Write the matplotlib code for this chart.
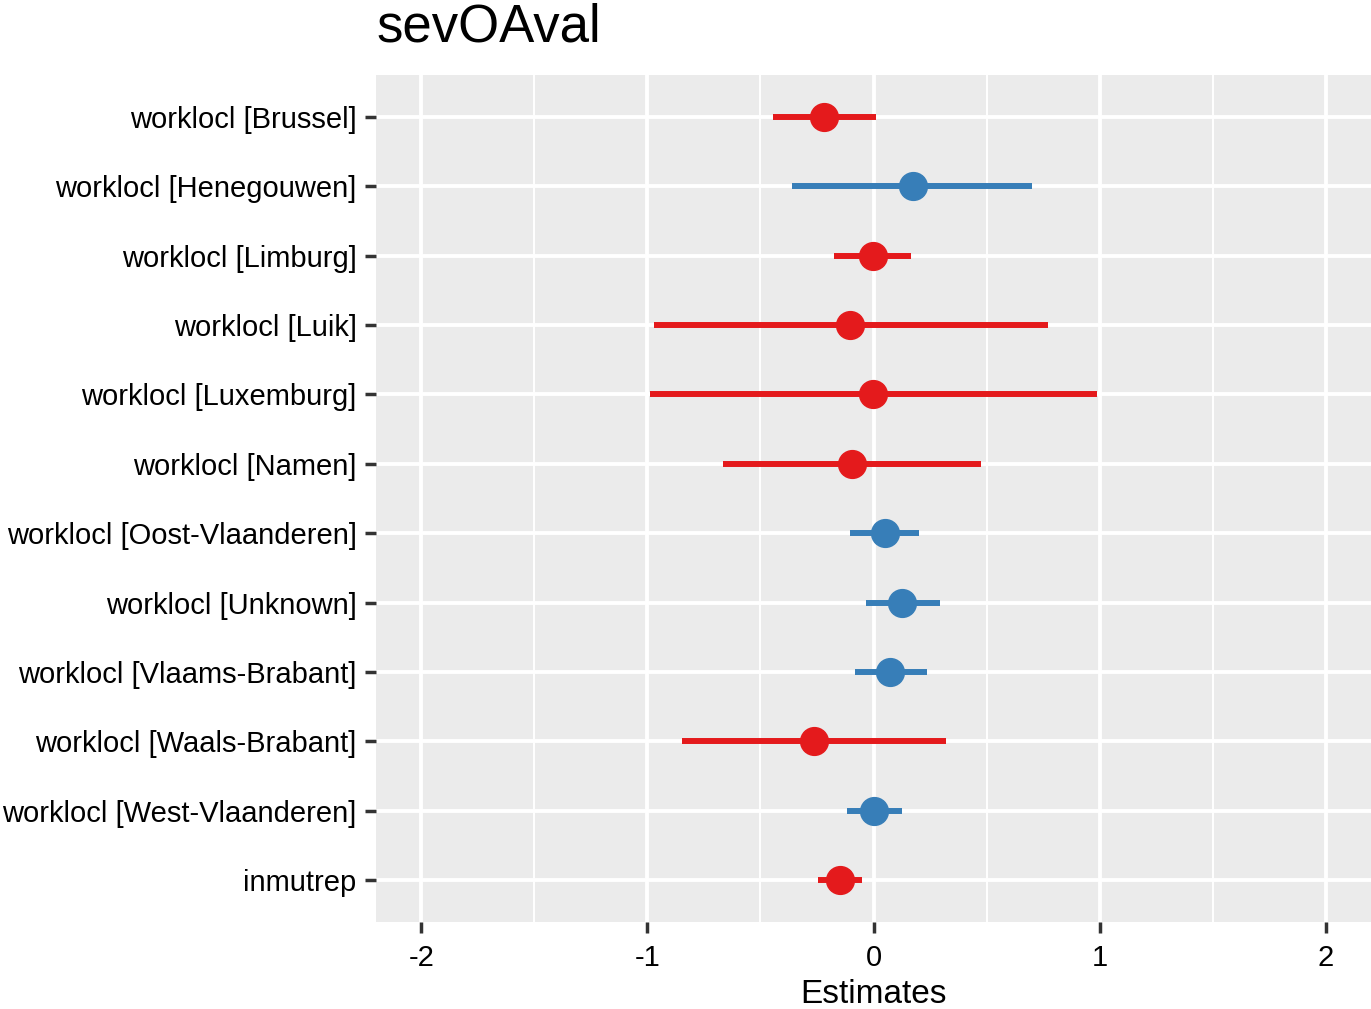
import matplotlib
matplotlib.use('Agg')
import matplotlib.pyplot as plt
import numpy as np

plt.rcParams['font.family'] = ['Liberation Sans', 'DejaVu Sans']

# Termos do modelo (de cima para baixo)
termos = ['worklocl [Brussel]', 'worklocl [Henegouwen]', 'worklocl [Limburg]',
          'worklocl [Luik]', 'worklocl [Luxemburg]', 'worklocl [Namen]',
          'worklocl [Oost-Vlaanderen]', 'worklocl [Unknown]',
          'worklocl [Vlaams-Brabant]', 'worklocl [Waals-Brabant]',
          'worklocl [West-Vlaanderen]', 'inmutrep']
estimativa = [-0.217, 0.173, -0.004, -0.102, -0.004, -0.097,
              0.049, 0.128, 0.075, -0.261, 0.004, -0.146]
ic_inf = [-0.443, -0.359, -0.173, -0.970, -0.988, -0.664,
          -0.102, -0.035, -0.080, -0.846, -0.115, -0.244]
ic_sup = [0.009, 0.700, 0.168, 0.771, 0.988, 0.474,
          0.199, 0.292, 0.235, 0.319, 0.124, -0.053]
xticks = [-2, -1, 0, 1, 2]

vermelho = '#E41A1C'
azul = '#377EB8'

fig = plt.figure(figsize=(13.71, 10.09), dpi=100)
ax = fig.add_axes([376/1371, 1 - 922/1009, (1371-376)/1371, (922-75)/1009])
ax.set_facecolor('#EBEBEB')

n = len(termos)
ypos = np.arange(n, 0, -1)
for y, e, lo, hi in zip(ypos, estimativa, ic_inf, ic_sup):
    cor = azul if e > 0 else vermelho
    ax.plot([lo, hi], [y, y], color=cor, lw=4.3, solid_capstyle='butt', zorder=3)
    ax.plot(e, y, 'o', color=cor, markersize=20, zorder=4)

ax.set_xlim(-2.2, 2.2)
ax.set_ylim(0.4, n + 0.6)
ax.set_xticks(xticks)
ax.set_xticklabels(['-2', '-1', '0', '1', '2'])
ax.set_xticks([-1.5, -0.5, 0.5, 1.5], minor=True)
ax.set_yticks(ypos)
ax.set_yticklabels(termos)

ax.grid(which='major', color='white', lw=2.8, zorder=0)
ax.grid(which='minor', axis='x', color='white', lw=1.4, zorder=0)
ax.set_axisbelow(True)
for s in ax.spines.values():
    s.set_visible(False)

ax.tick_params(which='major', length=8, width=2.5, color='#333333',
               labelsize=21, labelcolor='black', pad=6)
ax.tick_params(axis='x', which='major', pad=8)
ax.tick_params(which='minor', length=0)

ax.set_xlabel('Estimates', fontsize=24, labelpad=5)
ax.set_title('sevOAval', fontsize=38, loc='left', pad=24)

fig.savefig('out.png', dpi=100)
